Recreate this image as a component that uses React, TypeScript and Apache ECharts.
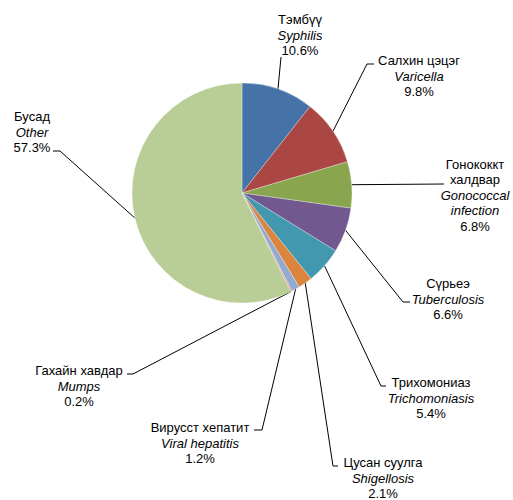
import React, { useEffect, useRef } from "react";
import * as echarts from "echarts";

const namesMn = ["Тэмбүү", "Салхин цэцэг", "Гонококкт\nхалдвар", "Сүрьеэ", "Трихомониаз", "Цусан суулга", "Вирусст хепатит", "Гахайн хавдар", "Бусад"];
const namesEn = ["Syphilis", "Varicella", "Gonococcal\ninfection", "Tuberculosis", "Trichomoniasis", "Shigellosis", "Viral hepatitis", "Mumps", "Other"];
const values = [10.6, 9.8, 6.8, 6.6, 5.4, 2.1, 1.2, 0.2, 57.3];
const colors = ["#4572A7", "#AA4643", "#89A54E", "#71588F", "#4198AF", "#DB843D", "#93A9CF", "#D19392", "#B9CD96"];

// label placement: [centerX, middleY]
const labelPos = [
  [300, 35], [419, 76], [475, 195], [448, 299], [431, 398], [383, 478], [200, 443], [79, 386], [32, 132],
];
// label line bend/end points after the slice edge
const linePts = [
  [[281, 57], [281, 57]],
  [[367, 64], [374, 64]],
  [[444, 184], [444, 184]],
  [[403, 302], [410, 302]],
  [[381, 386], [386, 386]],
  [[333, 466], [338, 466]],
  [[262, 430], [254, 430]],
  [[133, 374], [127, 374]],
  [[60, 151], [53, 151]],
];

export default function App() {
  const ref = useRef<HTMLDivElement>(null);
  useEffect(() => {
    const chart = echarts.init(ref.current!, null, { renderer: "svg" });
    const lines = (s: string, style: string) => s.split("\n").map((t) => `{${style}|${t}}`).join("\n");
    chart.setOption({
      animation: false,
      series: [
        {
          type: "pie",
          center: [242, 193],
          radius: 110,
          startAngle: 90,
          clockwise: true,
          avoidLabelOverlap: false,
          itemStyle: { borderColor: "rgba(255,255,255,0.6)", borderWidth: 0.5 },
          label: {
            show: true,
            position: "outside",
            fontFamily: "'Liberation Sans', Arial, sans-serif",
            fontSize: 13,
            color: "#000",
            align: "center",
            formatter: (p: any) =>
              `${lines(namesMn[p.dataIndex], "a")}\n${lines(namesEn[p.dataIndex], "b")}\n{a|${values[p.dataIndex].toFixed(1)}%}`,
            rich: {
              a: { fontSize: 13, lineHeight: 15.5, color: "#000", align: "center", fontFamily: "'Liberation Sans', Arial, sans-serif" },
              b: { fontSize: 13, lineHeight: 15.5, color: "#000", align: "center", fontStyle: "italic", fontFamily: "'Liberation Sans', Arial, sans-serif" },
            },
          },
          labelLine: { show: true, lineStyle: { color: "#000", width: 1 } },
          labelLayout: (params: any) => {
            const i = params.dataIndex;
            const start = params.labelLinePoints ? params.labelLinePoints[0] : [0, 0];
            return {
              x: labelPos[i][0],
              y: labelPos[i][1],
              align: "center",
              verticalAlign: "middle",
              labelLinePoints: [start, linePts[i][0], linePts[i][1]],
            };
          },
          data: values.map((v, i) => ({
            value: v,
            name: namesEn[i],
            itemStyle: { color: colors[i] },
          })),
        },
      ],
    });
    return () => chart.dispose();
  }, []);
  return <div ref={ref} style={{ position: "fixed", left: 0, top: 0, width: 513, height: 500, background: "#fff" }} />;
}
